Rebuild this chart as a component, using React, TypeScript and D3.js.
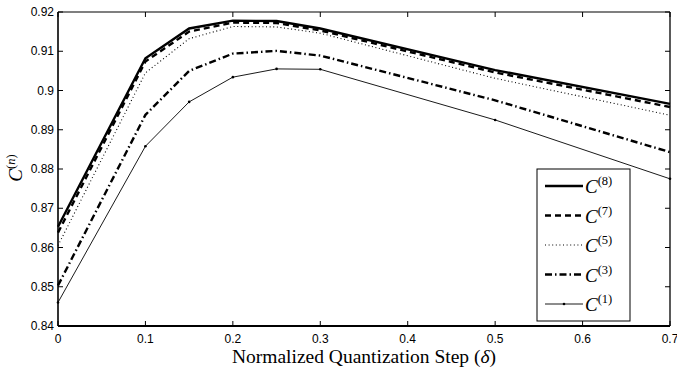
import React from "react";
import * as d3 from "d3";

const deltas = [0, 0.1, 0.15, 0.2, 0.25, 0.3, 0.5, 0.7];
const c8 = [0.8653, 0.9082, 0.9158, 0.9178, 0.9177, 0.9158, 0.9052, 0.8966];
const c7 = [0.8638, 0.9074, 0.915, 0.9173, 0.9172, 0.9153, 0.9046, 0.8958];
const c5 = [0.8605, 0.9045, 0.9132, 0.9163, 0.9162, 0.9146, 0.9031, 0.8937];
const c3 = [0.8503, 0.8938, 0.905, 0.9094, 0.9101, 0.9089, 0.8975, 0.8843];
const c1 = [0.846, 0.8858, 0.8971, 0.9034, 0.9055, 0.9054, 0.8925, 0.8775];
const seriesNames = ["8", "7", "5", "3", "1"];
const xTicks = [0, 0.1, 0.2, 0.3, 0.4, 0.5, 0.6, 0.7];
const yTicks = [0.84, 0.85, 0.86, 0.87, 0.88, 0.89, 0.9, 0.91, 0.92];

const W = 677, H = 369;
const L = 58, R = 670, T = 12, B = 326;

const styles = [
  { w: 2.4, dash: "" },
  { w: 2.4, dash: "6,4" },
  { w: 1.1, dash: "1,2.6" },
  { w: 2.4, dash: "7,3,1.5,3" },
  { w: 0.9, dash: "" },
];

export default function App() {
  const x = d3.scaleLinear().domain([0, 0.7]).range([L, R]);
  const y = d3.scaleLinear().domain([0.84, 0.92]).range([B, T]);
  const all = [c8, c7, c5, c3, c1];
  const line = d3
    .line<number>()
    .x((_, i) => x(deltas[i]))
    .y((d) => y(d));
  const tickFmt = (v: number) => String(+v.toFixed(2));
  const lgX = 537, lgY = 169, lgW = 93, lgH = 152;
  const rowY = (i: number) => 186 + i * 29.5;
  return (
    <div style={{ position: "absolute", left: 0, top: 0 }}>
      <svg width={W} height={H} style={{ display: "block", background: "#fff" }}>
        <rect x={0} y={0} width={W} height={H} fill="#fff" />
        {all.map((s, i) => (
          <path
            key={i}
            d={line(s) || ""}
            fill="none"
            stroke="#000"
            strokeWidth={styles[i].w}
            strokeDasharray={styles[i].dash || undefined}
            strokeLinejoin="miter"
          />
        ))}
        {c1.map((v, i) => (
          <circle key={i} cx={x(deltas[i])} cy={y(v)} r={1.3} fill="#000" />
        ))}
        <line x1={L} y1={T} x2={R} y2={T} stroke="#000" strokeWidth={1.1} />
        <line x1={R} y1={T} x2={R} y2={B} stroke="#000" strokeWidth={1.3} />
        <line x1={L} y1={T} x2={L} y2={B} stroke="#000" strokeWidth={1.6} />
        <line x1={L} y1={B} x2={R} y2={B} stroke="#000" strokeWidth={1.8} />
        {xTicks.map((t) => (
          <g key={"x" + t}>
            <line x1={x(t)} x2={x(t)} y1={B} y2={B - 5} stroke="#000" strokeWidth={1} />
            <line x1={x(t)} x2={x(t)} y1={T} y2={T + 5} stroke="#000" strokeWidth={1} />
            <text
              x={x(t)}
              y={343}
              textAnchor="middle"
              fontFamily="Liberation Sans, Arial, sans-serif"
              fontSize={12}
            >
              {tickFmt(t)}
            </text>
          </g>
        ))}
        {yTicks.map((t) => (
          <g key={"y" + t}>
            <line x1={L} x2={L + 5} y1={y(t)} y2={y(t)} stroke="#000" strokeWidth={1} />
            <line x1={R} x2={R - 5} y1={y(t)} y2={y(t)} stroke="#000" strokeWidth={1} />
            <text
              x={L - 4}
              y={y(t) + 4.2}
              textAnchor="end"
              fontFamily="Liberation Sans, Arial, sans-serif"
              fontSize={12}
            >
              {tickFmt(t)}
            </text>
          </g>
        ))}
        <text
          x={364}
          y={363}
          textAnchor="middle"
          fontFamily="Liberation Serif, Times New Roman, serif"
          fontSize={19.5}
        >
          Normalized Quantization Step (<tspan fontStyle="italic">δ</tspan>)
        </text>
        <text
          transform={`translate(22,${168}) rotate(-90)`}
          textAnchor="middle"
          fontFamily="Liberation Serif, Times New Roman, serif"
          fontSize={19}
        >
          <tspan fontStyle="italic">C</tspan>
          <tspan fontSize={12.5} dy={-7}>
            (<tspan fontStyle="italic">n</tspan>)
          </tspan>
        </text>
        <rect x={lgX} y={lgY} width={lgW} height={lgH} fill="#fff" stroke="#000" strokeWidth={1} />
        {seriesNames.map((n, i) => (
          <g key={"lg" + n}>
            <line
              x1={545}
              x2={583}
              y1={rowY(i)}
              y2={rowY(i)}
              stroke="#000"
              strokeWidth={styles[i].w}
              strokeDasharray={styles[i].dash || undefined}
            />
            {i === 4 && <circle cx={564} cy={rowY(i)} r={1.3} fill="#000" />}
            <text
              x={585}
              y={rowY(i) + 7}
              fontFamily="Liberation Serif, Times New Roman, serif"
              fontSize={19}
            >
              <tspan fontStyle="italic">C</tspan>
              <tspan fontSize={12.5} dy={-8}>
                ({n})
              </tspan>
            </text>
          </g>
        ))}
      </svg>
    </div>
  );
}
